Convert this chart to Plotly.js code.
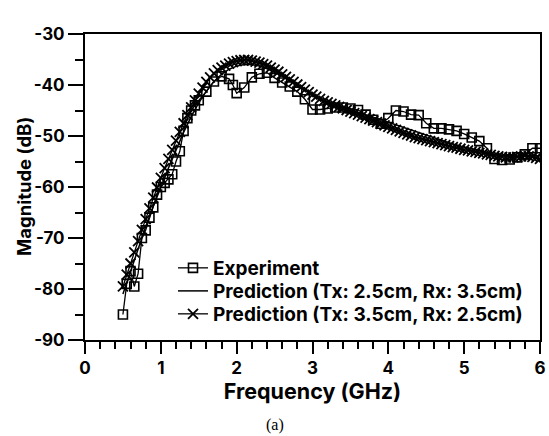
<!DOCTYPE html>
<html>
<head>
<meta charset="utf-8">
<script src="https://cdn.plot.ly/plotly-3.0.1.min.js"></script>
<style>html,body{margin:0;padding:0;background:#fff;}#chart{width:549px;height:436px;}</style>
</head>
<body>
<div id="chart"></div>
<script>
// Experiment (open squares)
var expFreq = [0.5,0.55,0.6,0.65,0.7,0.75,0.8,0.85,0.9,0.95,1.0,1.05,1.1,1.15,1.2,1.25,1.3,1.35,1.4,1.45,1.5,1.6,1.7,1.8,1.9,1.95,2.0,2.1,2.2,2.3,2.4,2.5,2.6,2.7,2.8,2.9,3.0,3.1,3.2,3.3,3.4,3.5,3.6,3.7,3.8,3.9,4.0,4.1,4.2,4.3,4.4,4.5,4.6,4.7,4.8,4.9,5.0,5.1,5.2,5.3,5.4,5.5,5.6,5.7,5.8,5.9,6.0];
var expMag = [-85,-79,-76.5,-79.5,-77,-70,-68.5,-66,-64,-61.5,-60,-59.2,-58.5,-57.5,-55,-53,-49,-46.5,-45,-44,-43,-41.3,-39.3,-38.3,-38.8,-40,-41.6,-40.5,-38.5,-37.8,-37.6,-38.6,-39.5,-40.3,-41.3,-42.8,-44.8,-44.8,-44.6,-44.4,-44.4,-44.6,-44.9,-45.8,-46.8,-47.6,-46.5,-45,-45.2,-45.8,-45.9,-47.5,-48.5,-48.5,-48.7,-49,-49.6,-50.3,-51,-52.4,-54.5,-54.7,-54.6,-54.2,-53.6,-52.4,-52.4];

// Prediction (Tx: 2.5cm, Rx: 3.5cm) - solid line
var pred1Freq = [0.5,0.6,0.7,0.8,0.9,1.0,1.1,1.2,1.3,1.4,1.5,1.6,1.7,1.8,1.9,2.0,2.1,2.2,2.3,2.4,2.5,2.6,2.7,2.8,2.9,3.0,3.1,3.2,3.3,3.4,3.5,3.6,3.7,3.8,3.9,4.0,4.1,4.2,4.3,4.4,4.5,4.6,4.7,4.8,4.9,5.0,5.1,5.2,5.3,5.4,5.5,5.6,5.7,5.8,5.9,6.0];
var pred1Mag = [-81,-76.5,-72,-67.8,-63.8,-60,-56.3,-52.8,-49.3,-46.2,-43.5,-41.2,-39.3,-37.9,-36.9,-36.3,-36,-36,-36.3,-36.8,-37.5,-38.3,-39.2,-40.1,-41,-41.9,-42.7,-43.4,-44,-44.5,-45,-45.4,-45.8,-46.3,-46.8,-47.3,-47.9,-48.4,-48.9,-49.4,-49.9,-50.4,-50.9,-51.4,-51.8,-52.2,-52.6,-53,-53.3,-53.6,-53.8,-53.9,-53.9,-53.8,-53.8,-53.9];

// Prediction (Tx: 3.5cm, Rx: 2.5cm) - crosses
var pred2Freq = [0.5,0.55,0.6,0.65,0.7,0.75,0.8,0.85,0.9,0.95,1.0,1.05,1.1,1.15,1.2,1.25,1.3,1.35,1.4,1.45,1.5,1.55,1.6,1.65,1.7,1.75,1.8,1.85,1.9,1.95,2.0,2.05,2.1,2.15,2.2,2.25,2.3,2.35,2.4,2.45,2.5,2.55,2.6,2.65,2.7,2.75,2.8,2.85,2.9,2.95,3.0,3.05,3.1,3.15,3.2,3.25,3.3,3.35,3.4,3.45,3.5,3.55,3.6,3.65,3.7,3.75,3.8,3.85,3.9,3.95,4.0,4.05,4.1,4.15,4.2,4.25,4.3,4.35,4.4,4.45,4.5,4.55,4.6,4.65,4.7,4.75,4.8,4.85,4.9,4.95,5.0,5.05,5.1,5.15,5.2,5.25,5.3,5.35,5.4,5.45,5.5,5.55,5.6,5.65,5.7,5.75,5.8,5.85,5.9,5.95,6.0];
var pred2Mag = [-79.5,-77.2,-75,-72.8,-70.6,-68.4,-66.3,-64.2,-62.1,-60.1,-58.2,-56.3,-54.5,-52.7,-50.9,-49.2,-47.5,-45.9,-44.4,-43,-41.7,-40.5,-39.4,-38.5,-37.7,-37.1,-36.6,-36.2,-35.8,-35.5,-35.3,-35.15,-35.1,-35.1,-35.2,-35.4,-35.6,-35.9,-36.2,-36.6,-37,-37.4,-37.9,-38.4,-38.9,-39.4,-39.9,-40.4,-40.9,-41.4,-41.9,-42.3,-42.7,-43.1,-43.4,-43.7,-44,-44.3,-44.6,-44.9,-45.2,-45.5,-45.8,-46.1,-46.4,-46.7,-47,-47.3,-47.6,-47.9,-48.2,-48.5,-48.8,-49.1,-49.4,-49.7,-49.9,-50.2,-50.4,-50.6,-50.8,-51,-51.2,-51.4,-51.6,-51.8,-52,-52.2,-52.3,-52.5,-52.7,-52.8,-53,-53.1,-53.3,-53.4,-53.6,-53.7,-53.9,-54,-54.1,-54.2,-54.2,-54.2,-54.1,-54,-53.9,-54,-54.1,-54.3,-54.5];

var seriesNames = ['Experiment','Prediction (Tx: 2.5cm, Rx: 3.5cm)','Prediction (Tx: 3.5cm, Rx: 2.5cm)'];
var xTickVals = [0,1,2,3,4,5,6];
var yTickVals = [-90,-80,-70,-60,-50,-40,-30];

var FONT = 'Inter, "Liberation Sans", Arial, sans-serif';

var traces = [
  {x: expFreq, y: expMag, name: seriesNames[0], type: 'scatter', mode: 'lines+markers', legend: 'legend',
   line: {color: '#000', width: 1.3},
   marker: {symbol: 'square-open', size: 9, color: '#000', line: {color: '#000', width: 1.6}}},
  {x: pred1Freq, y: pred1Mag, name: seriesNames[1], type: 'scatter', mode: 'lines', legend: 'legend2',
   line: {color: '#000', width: 1.5}},
  {x: pred2Freq, y: pred2Mag, name: seriesNames[2], type: 'scatter', mode: 'lines+markers', legend: 'legend3',
   line: {color: '#000', width: 1.3},
   marker: {symbol: 'x-thin', size: 10, color: '#000', line: {color: '#000', width: 1.8}}}
];

function leg(yc) {
  return {x: 0.1934, y: yc, xanchor: 'left', yanchor: 'middle',
    bgcolor: 'rgba(255,255,255,0)', borderwidth: 0,
    font: {family: FONT, size: 19, weight: 'bold', color: '#000'}};
}

var layout = {
  width: 549, height: 436,
  margin: {l: 85, r: 9, t: 34, b: 96},
  paper_bgcolor: '#fff', plot_bgcolor: '#fff',
  showlegend: true,
  font: {family: FONT, color: '#000'},
  xaxis: {
    range: [0, 6], tickvals: xTickVals, ticktext: xTickVals.map(String),
    ticks: 'outside', ticklen: 12, tickwidth: 2, tickcolor: '#000',
    minor: {dtick: 0.2, ticks: 'outside', ticklen: 7, tickwidth: 2, tickcolor: '#000'},
    showline: true, linewidth: 2, linecolor: '#000', mirror: true,
    showgrid: false, zeroline: false,
    tickfont: {family: FONT, size: 17, weight: 'bold', color: '#000'},
    title: {text: 'Frequency (GHz)', font: {family: FONT, size: 21.5, weight: 'bold', color: '#000'}, standoff: 3}
  },
  yaxis: {
    range: [-90, -30], tickvals: yTickVals, ticktext: yTickVals.map(String),
    ticks: 'outside', ticklen: 15, tickwidth: 2, tickcolor: '#000',
    minor: {dtick: 5, ticks: 'outside', ticklen: 8, tickwidth: 2, tickcolor: '#000'},
    showline: true, linewidth: 2, linecolor: '#000', mirror: true,
    showgrid: false, zeroline: false,
    tickfont: {family: FONT, size: 17, weight: 'bold', color: '#000'}
  },
  legend: leg(0.2353),
  legend2: leg(0.160),
  legend3: leg(0.085),
  annotations: [
    {text: 'Magnitude (dB)', xref: 'paper', yref: 'paper', x: -0.134, y: 0.5, xanchor: 'center', yanchor: 'middle',
     textangle: -90, showarrow: false, font: {family: FONT, size: 18.5, weight: 'bold', color: '#000'}},
    {text: '(a)', xref: 'paper', yref: 'paper', x: 0.4176, y: -0.278, xanchor: 'center', yanchor: 'middle',
     showarrow: false, font: {family: '"Liberation Serif", "Times New Roman", serif', size: 16, color: '#000'}}
  ]
};

Plotly.newPlot('chart', traces, layout, {displayModeBar: false, staticPlot: true});
</script>
</body>
</html>
